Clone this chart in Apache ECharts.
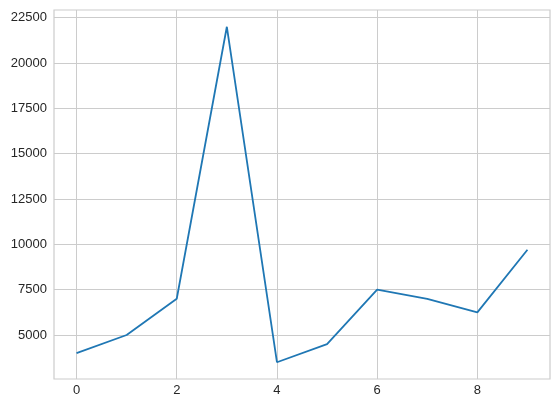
<!DOCTYPE html>
<html>
<head>
<meta charset="UTF-8">
<title>line</title>
<script src="https://cdn.jsdelivr.net/npm/echarts@6/dist/echarts.min.js"></script>
<style>html,body{margin:0;padding:0;background:#fff;}</style>
</head>
<body>
<div id="box" style="width:559px;height:406px;"></div>
<script>
// data
var xs = [0, 1, 2, 3, 4, 5, 6, 7, 8, 9];
var ys = [4000, 5000, 7000, 22000, 3500, 4500, 7500, 7000, 6250, 9700];
var xTicks = [0, 2, 4, 6, 8];
var yTicks = [5000, 7500, 10000, 12500, 15000, 17500, 20000, 22500];

var chart = echarts.init(document.getElementById('box'));

var pts = [];
for (var i = 0; i < xs.length; i++) pts.push([xs[i], ys[i]]);

var lbl = {color: '#262626', fontFamily: 'Liberation Sans', fontSize: 13,
           formatter: function (v) { return String(v); }};

chart.setOption({
  animation: false,
  grid: {left: 54, right: 9, top: 10, bottom: 27, show: true,
         borderColor: '#cccccc', borderWidth: 1.2, containLabel: false},
  xAxis: {
    type: 'value', min: -0.45, max: 9.45,
    axisLine: {show: false},
    axisTick: {show: false, customValues: xTicks},
    axisLabel: Object.assign({customValues: xTicks, margin: 5}, lbl),
    splitLine: {show: true, lineStyle: {color: '#cccccc', width: 1}}
  },
  yAxis: {
    type: 'value', min: 2575, max: 22925,
    axisLine: {show: false},
    axisTick: {show: false, customValues: yTicks},
    axisLabel: Object.assign({customValues: yTicks, margin: 7}, lbl),
    splitLine: {show: true, lineStyle: {color: '#cccccc', width: 1}}
  },
  series: [{
    type: 'line',
    data: pts,
    showSymbol: false,
    lineStyle: {color: '#1f77b4', width: 1.8}
  }]
});
</script>
</body>
</html>
